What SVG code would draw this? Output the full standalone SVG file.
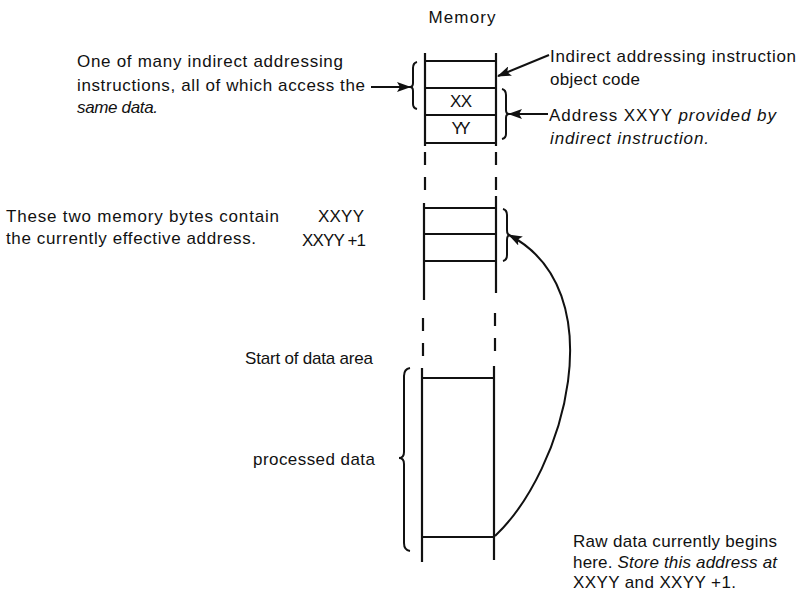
<svg xmlns="http://www.w3.org/2000/svg" width="802" height="593" viewBox="0 0 802 593">
<style>
  text { font-family: "Liberation Sans", Arial, sans-serif; font-size: 17px; fill: #111; }
  .it { font-style: italic; }
  .mem { stroke: #111; stroke-width: 2.2; fill: none; }
  .dash { stroke: #111; stroke-width: 2.2; fill: none; stroke-dasharray: 13 12; }
  .br { stroke: #111; stroke-width: 2; fill: none; }
  .con { stroke: #111; stroke-width: 2; fill: none; }
</style>
<defs>
  <marker id="ah" viewBox="0 0 14 10" refX="13" refY="5" markerWidth="14" markerHeight="10" markerUnits="userSpaceOnUse" orient="auto">
    <path d="M0 0 L14 5 L0 10 L3 5 Z" fill="#111"/>
  </marker>
</defs>
<rect width="802" height="593" fill="#fff"/>

<g id="memory-title">
  <text x="462" y="23" text-anchor="middle" textLength="67">Memory</text>
</g>

<g id="memory-top">
  <path class="mem" d="M425 53 V146 M496 53 V146 M425 61 H496 M425 88 H496 M425 115 H496 M425 143 H496"/>
  <text x="461" y="107" text-anchor="middle" textLength="22">XX</text>
  <text x="461" y="134" text-anchor="middle" textLength="19">YY</text>
</g>

<g id="memory-dash1">
  <path class="dash" d="M425 152 V200 M496 152 V200"/>
</g>

<g id="memory-address">
  <path class="mem" d="M424 203 V300 M496 196 V293 M424 208 H496 M424 234 H496 M424 261 H496"/>
  <text x="364" y="222" text-anchor="end" textLength="46">XXYY</text>
  <text x="366" y="246" text-anchor="end" textLength="64">XXYY +1</text>
</g>

<g id="memory-dash2">
  <path class="dash" d="M423 318 V356 M495 313 V356" stroke-dasharray="14 8"/>
</g>

<g id="memory-data">
  <path class="mem" d="M422 368 V562 M494 366 V560 M422 378 H494 M422 537 H494"/>
</g>

<g id="label-instr">
  <text x="550" y="62" textLength="246">Indirect addressing instruction</text>
  <text x="550" y="85" textLength="90">object code</text>
</g>

<g id="label-address">
  <text x="549" y="121" textLength="227">Address XXYY <tspan class="it">provided by</tspan></text>
  <text x="550" y="144" class="it" textLength="159">indirect instruction.</text>
</g>

<g id="label-many">
  <text x="77" y="67" textLength="266">One of many indirect addressing</text>
  <text x="77" y="91" textLength="288">instructions, all of which access the</text>
  <text x="77" y="113" class="it" textLength="81">same data.</text>
</g>

<g id="label-bytes">
  <text x="6" y="222" textLength="273">These two memory bytes contain</text>
  <text x="6" y="244" textLength="250">the currently effective address.</text>
</g>

<g id="label-start">
  <text x="245" y="364" textLength="128">Start of data area</text>
</g>

<g id="label-processed">
  <text x="253" y="465" textLength="122">processed data</text>
</g>

<g id="label-raw">
  <text x="573" y="547" textLength="204">Raw data currently begins</text>
  <text x="573" y="568" textLength="204">here. <tspan class="it">Store this address at</tspan></text>
  <text x="573" y="588" textLength="163">XXYY and XXYY +1.</text>
</g>

<g id="brackets">
  <path class="br" d="M417 62 Q413 63 413 68 V83 Q413 87 410 87 Q413 87 413 91 V104 Q413 108 417 109"/>
  <path class="br" d="M502 89 Q506 90 506 95 V110 Q506 114 509 114 Q506 114 506 118 V134 Q506 138 502 139"/>
  <path class="br" d="M503 209 Q507 210 507 215 V230 Q507 235 510 235 Q507 235 507 240 V255 Q507 260 503 261"/>
  <path class="br" d="M410 368 Q404 369 404 376 V452 Q404 458 399 458 Q404 458 404 464 V543 Q404 550 410 551"/>
</g>

<g id="connectors">
  <path class="con" d="M371 87 H410" marker-end="url(#ah)"/>
  <path class="con" d="M549 55 L498 76" marker-end="url(#ah)"/>
  <path class="con" d="M548 114 H509" marker-end="url(#ah)"/>
  <path class="con" d="M495 536 C565 470 615 290 509 235" marker-end="url(#ah)"/>
</g>
</svg>
